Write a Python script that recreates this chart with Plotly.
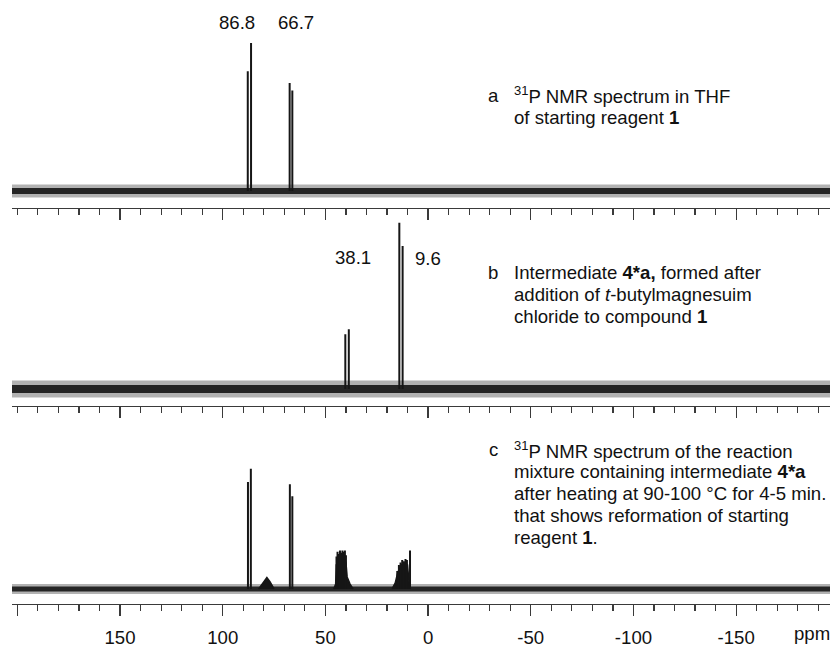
import plotly.graph_objects as go

# ---------------- data ----------------
PPM_START, PPM_END = 202.6, -195.7          # spectral window (ppm)
TICK_VALUES = [200, 150, 100, 50, 0, -50, -100, -150]
TICK_LABELS = ["", "150", "100", "50", "0", "-50", "-100", "-150"]
AXIS_UNIT = "ppm"

# a: 31P NMR of starting reagent 1
A_PEAK_PPM = [87.8, 86.2, 67.4, 66.1]
A_PEAK_INT = [81, 100, 73, 68]
A_SHIFT_LABELS = ["86.8", "66.7"]

# b: intermediate 4*a
B_PEAK_PPM = [40.3, 38.6, 14.0, 12.4]
B_PEAK_INT = [33, 36, 100, 86]
B_SHIFT_LABELS = ["38.1", "9.6"]

# c: reaction mixture after heating
C_PEAK_PPM = [87.7, 86.3, 67.3, 66.1,
              44.6, 44.1, 43.5, 42.9, 42.3, 41.7, 41.1, 40.5, 40.0,
              15.0, 14.2, 13.4, 12.6, 11.8, 11.0, 10.3, 8.8]
C_PEAK_INT = [89, 100, 87, 77,
              27, 31, 29, 32, 30, 32, 31, 32, 28,
              15, 20, 22, 24, 23, 25, 24, 32]
C_BUMP_PPM = [82.5, 80.0, 78.5, 77.0, 75.0]
C_BUMP_INT = [0, 6, 9.5, 6, 0]
C_BASE_PPM = [46.0, 45.0, 44.7, 40.0, 39.4, 38.0, 36.5]
C_BASE_INT = [0, 4, 20, 22, 10, 4, 0]
C_HUMP_PPM = [17.5, 16.0, 15.0, 14.0, 13.0, 12.0, 11.0, 10.0, 9.4, 9.0]
C_HUMP_INT = [0, 5, 12, 17, 20, 21, 22, 20, 9, 0]

A_CAPTION = ["<sup>31</sup>P NMR spectrum in THF", "of starting reagent <b>1</b>"]
B_CAPTION = ["Intermediate <b>4*a,</b> formed after", "addition of <i>t</i>-butylmagnesuim",
             "chloride to compound <b>1</b>"]
C_CAPTION = ["<sup>31</sup>P NMR spectrum of the reaction",
             "mixture containing intermediate <b>4*a</b>",
             "after heating at 90-100 °C for 4-5 min.",
             "that shows reformation of starting",
             "reagent <b>1</b>."]

# ---------------- layout geometry (page pixels) ----------------
W, H = 830, 648
FONT = "Arial, Liberation Sans, sans-serif"
FS = 18.6
INK = "#161616"
AXC = "#3a3a3a"
X0_PX = 12

panels = [
    # axis line px, baseline px, domain top px, px per intensity unit, noise core, noise halo
    dict(axis=212, base=195, top=0, scale=1.51, core=6, halo=13),
    dict(axis=414, base=397, top=212, scale=1.697, core=8, halo=17),
    dict(axis=616, base=601, top=414, scale=1.227, core=5, halo=10),
]


def py(px):
    return 1 - px / H


def pxx(px):
    return px / W


fig = go.Figure()


def seg(xs, ys):
    X, Y = [], []
    for x, y in zip(xs, ys):
        X += [x, x, None]
        Y += [0, y, None]
    return X, Y


series = [
    (A_PEAK_PPM, A_PEAK_INT, []),
    (B_PEAK_PPM, B_PEAK_INT, []),
    (C_PEAK_PPM, C_PEAK_INT, [(C_BUMP_PPM, C_BUMP_INT), (C_BASE_PPM, C_BASE_INT),
                              (C_HUMP_PPM, C_HUMP_INT)]),
]

for i, (pp, ii, fills) in enumerate(series):
    xa = "x" if i == 0 else f"x{i+1}"
    ya = "y" if i == 0 else f"y{i+1}"
    p = panels[i]
    # noise baseline band
    fig.add_trace(go.Scatter(x=[PPM_START, PPM_END], y=[0, 0], mode="lines",
                             line=dict(color="rgba(0,0,0,0.3)", width=p["halo"]),
                             xaxis=xa, yaxis=ya, hoverinfo="skip", showlegend=False))
    fig.add_trace(go.Scatter(x=[PPM_START, PPM_END], y=[0, 0], mode="lines",
                             line=dict(color="#252525", width=p["core"]),
                             xaxis=xa, yaxis=ya, hoverinfo="skip", showlegend=False))
    for fx, fy in fills:
        fig.add_trace(go.Scatter(x=fx, y=fy, mode="lines", fill="toself",
                                 fillcolor=INK, line=dict(color=INK, width=1.5),
                                 xaxis=xa, yaxis=ya, hoverinfo="skip", showlegend=False))
    X, Y = seg(pp, ii)
    fig.add_trace(go.Scatter(x=X, y=Y, mode="lines", line=dict(color=INK, width=2),
                             xaxis=xa, yaxis=ya, hoverinfo="skip", showlegend=False))

layout = dict(width=W, height=H, margin=dict(l=0, r=0, t=0, b=0),
              paper_bgcolor="white", plot_bgcolor="white", showlegend=False,
              font=dict(family=FONT, size=FS, color="#111"))

for i, p in enumerate(panels):
    k = "" if i == 0 else str(i + 1)
    last = i == len(panels) - 1
    layout["xaxis" + k] = dict(
        domain=[pxx(X0_PX), 1], range=[PPM_START, PPM_END], anchor="y" + k,
        showline=True, linecolor=AXC, linewidth=1.2, showgrid=False, zeroline=False,
        ticks="outside", ticklen=11, tickwidth=1.2, tickcolor=AXC,
        tickmode="array", tickvals=TICK_VALUES, ticktext=TICK_LABELS,
        showticklabels=last, tickfont=dict(size=FS, family=FONT, color="#111"),
        ticklabelstandoff=6,
        minor=dict(ticks="outside", ticklen=6, tickwidth=1.2, tickcolor=AXC,
                   tickmode="linear", tick0=0, dtick=10, showgrid=False),
    )
    lo = -(p["axis"] - p["base"]) / p["scale"]
    hi = (p["base"] - p["top"]) / p["scale"]
    layout["yaxis" + k] = dict(domain=[py(p["axis"]), py(p["top"])], range=[lo, hi],
                               visible=False, anchor="x" + k)

ann = []


def text(x, y, s, xanchor="center"):
    ann.append(dict(x=pxx(x), y=py(y), xref="paper", yref="paper", text=s,
                    showarrow=False, xanchor=xanchor, yanchor="middle", align="left",
                    font=dict(family=FONT, size=FS, color="#111")))


# chemical shift labels
text(237, 23, A_SHIFT_LABELS[0])
text(296, 23, A_SHIFT_LABELS[1])
text(353, 263, B_SHIFT_LABELS[0])
text(428, 264, B_SHIFT_LABELS[1])


def caption(letter, lines, y0, dy):
    text(493, y0, letter)
    for j, ln in enumerate(lines):
        text(512, y0 + j * dy, ln, xanchor="left")


caption("a", A_CAPTION, 97, 23)
caption("b", B_CAPTION, 278, 22.5)
caption("c", C_CAPTION, 459, 22.3)
# unit
text(812, 646, AXIS_UNIT)

layout["annotations"] = ann
fig.update_layout(**layout)
fig.write_html(
    "out.html",
    config={"displayModeBar": False, "staticPlot": True},
    post_script="document.body.style.margin='0';document.body.style.overflow='hidden';",
)
